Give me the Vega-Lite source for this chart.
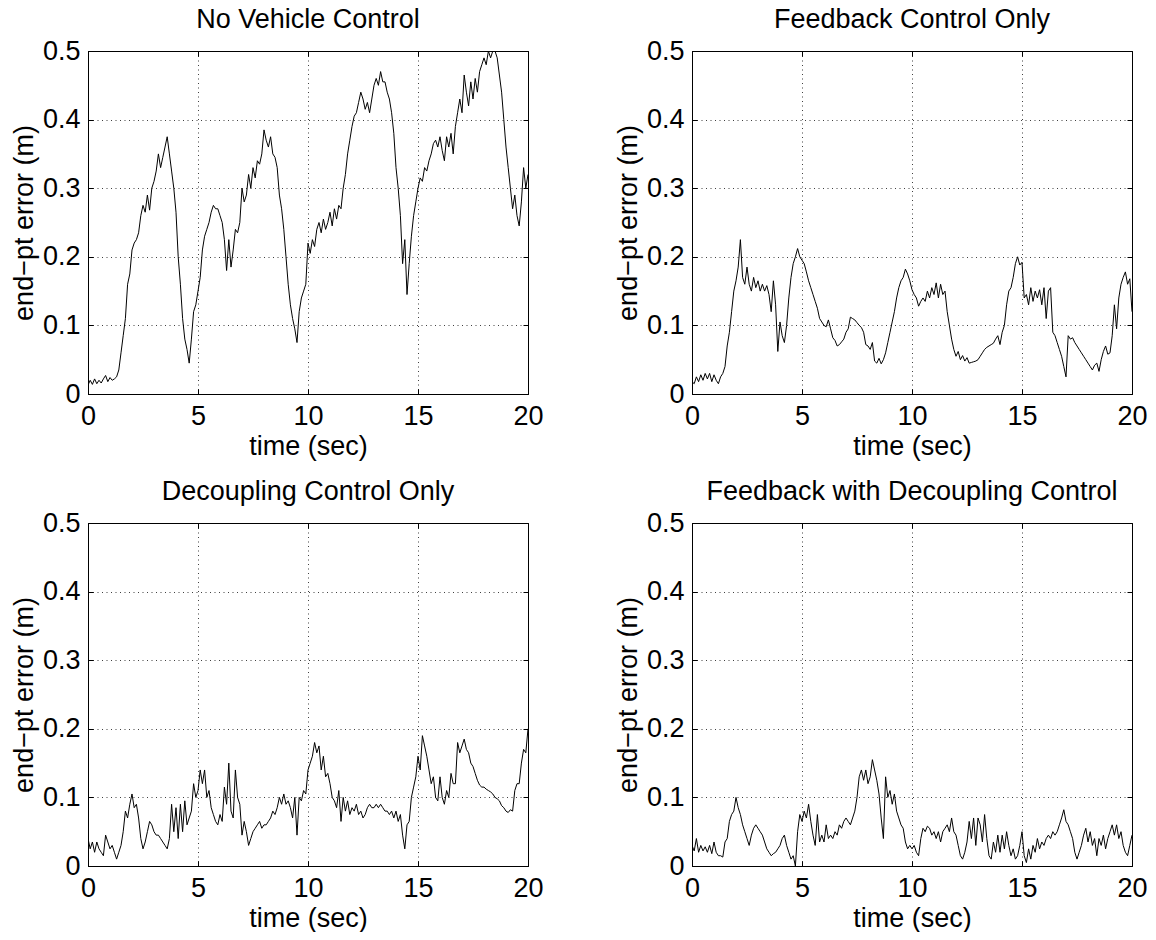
{
"$schema": "https://vega.github.io/schema/vega-lite/v6.json",
"background": "white",
"padding": {"left": 9, "top": 5, "right": 0, "bottom": 0},
"config": {
 "font": "Liberation Sans",
 "view": {"stroke": "black", "strokeWidth": 1},
 "title": {"fontSize": 27, "fontWeight": "normal", "color": "black", "offset": 3},
 "axis": {
  "labelFont": "Liberation Sans", "labelFontSize": 27, "labelColor": "black", "labelFlush": false,
  "titleFont": "Liberation Sans", "titleFontSize": 27, "titleFontWeight": "normal", "titleColor": "black",
  "domainColor": "black", "tickColor": "black", "tickSize": -5, "labelPadding": 13,
  "gridColor": "black", "gridOpacity": 0.75, "gridDash": [1, 3.5], "gridWidth": 1
 },
 "axisX": {"labelPadding": 14, "titlePadding": 4},
 "axisY": {"titlePadding": 4}
},
"columns": 2,
"spacing": {"row": 129, "column": 164},
"bounds": "flush",
"data": {"values": [
{"t":0,"a":0.013,"b":0.018,"c":0.04,"d":0.03},
{"t":0.1,"a":0.02,"b":0.015,"c":0.025,"d":0.022},
{"t":0.2,"a":0.014,"b":0.025,"c":0.035,"d":0.04},
{"t":0.3,"a":0.022,"b":0.018,"c":0.02,"d":0.02},
{"t":0.4,"a":0.015,"b":0.028,"c":0.035,"d":0.03},
{"t":0.5,"a":0.02,"b":0.02,"c":0.025,"d":0.022},
{"t":0.6,"a":0.016,"b":0.03,"c":0.02,"d":0.028},
{"t":0.7,"a":0.022,"b":0.022,"c":0.015,"d":0.02},
{"t":0.8,"a":0.027,"b":0.03,"c":0.045,"d":0.03},
{"t":0.9,"a":0.018,"b":0.018,"c":0.035,"d":0.018},
{"t":1.0,"a":0.024,"b":0.028,"c":0.025,"d":0.035},
{"t":1.1,"a":0.02,"b":0.02,"c":0.03,"d":0.02},
{"t":1.2,"a":0.022,"b":0.015,"c":0.02,"d":0.015},
{"t":1.3,"a":0.025,"b":0.025,"c":0.01,"d":0.015},
{"t":1.4,"a":0.035,"b":0.03,"c":0.02,"d":0.013},
{"t":1.5,"a":0.06,"b":0.04,"c":0.03,"d":0.035},
{"t":1.6,"a":0.085,"b":0.07,"c":0.05,"d":0.04},
{"t":1.7,"a":0.11,"b":0.09,"c":0.08,"d":0.065},
{"t":1.8,"a":0.16,"b":0.12,"c":0.07,"d":0.075},
{"t":1.9,"a":0.175,"b":0.15,"c":0.09,"d":0.08},
{"t":2.0,"a":0.21,"b":0.165,"c":0.105,"d":0.1},
{"t":2.1,"a":0.22,"b":0.185,"c":0.085,"d":0.085},
{"t":2.2,"a":0.225,"b":0.225,"c":0.09,"d":0.075},
{"t":2.3,"a":0.235,"b":0.17,"c":0.07,"d":0.06},
{"t":2.4,"a":0.26,"b":0.16,"c":0.04,"d":0.05},
{"t":2.5,"a":0.275,"b":0.185,"c":0.025,"d":0.04},
{"t":2.6,"a":0.265,"b":0.16,"c":0.035,"d":0.03},
{"t":2.7,"a":0.29,"b":0.15,"c":0.05,"d":0.045},
{"t":2.8,"a":0.268,"b":0.17,"c":0.065,"d":0.055},
{"t":2.9,"a":0.3,"b":0.155,"c":0.06,"d":0.06},
{"t":3.0,"a":0.31,"b":0.165,"c":0.05,"d":0.055},
{"t":3.1,"a":0.325,"b":0.15,"c":0.045,"d":0.05},
{"t":3.2,"a":0.35,"b":0.16,"c":0.045,"d":0.045},
{"t":3.3,"a":0.33,"b":0.15,"c":0.04,"d":0.035},
{"t":3.4,"a":0.345,"b":0.158,"c":0.035,"d":0.025},
{"t":3.5,"a":0.36,"b":0.145,"c":0.03,"d":0.02},
{"t":3.6,"a":0.375,"b":0.12,"c":0.025,"d":0.015},
{"t":3.7,"a":0.35,"b":0.165,"c":0.04,"d":0.018},
{"t":3.8,"a":0.325,"b":0.13,"c":0.09,"d":0.02},
{"t":3.9,"a":0.3,"b":0.062,"c":0.05,"d":0.025},
{"t":4.0,"a":0.265,"b":0.105,"c":0.085,"d":0.03},
{"t":4.1,"a":0.2,"b":0.085,"c":0.04,"d":0.04},
{"t":4.2,"a":0.16,"b":0.075,"c":0.09,"d":0.045},
{"t":4.3,"a":0.11,"b":0.1,"c":0.05,"d":0.03},
{"t":4.4,"a":0.08,"b":0.14,"c":0.095,"d":0.02},
{"t":4.5,"a":0.065,"b":0.17,"c":0.06,"d":0.01},
{"t":4.6,"a":0.045,"b":0.19,"c":0.07,"d":0.015},
{"t":4.7,"a":0.08,"b":0.2,"c":0.08,"d":0.0},
{"t":4.8,"a":0.12,"b":0.212,"c":0.12,"d":0.05},
{"t":4.9,"a":0.13,"b":0.2,"c":0.1,"d":0.075},
{"t":5.0,"a":0.15,"b":0.195,"c":0.11,"d":0.065},
{"t":5.1,"a":0.17,"b":0.19,"c":0.14,"d":0.08},
{"t":5.2,"a":0.21,"b":0.178,"c":0.12,"d":0.07},
{"t":5.3,"a":0.23,"b":0.165,"c":0.14,"d":0.09},
{"t":5.4,"a":0.24,"b":0.155,"c":0.1,"d":0.065},
{"t":5.5,"a":0.25,"b":0.145,"c":0.11,"d":0.045},
{"t":5.6,"a":0.265,"b":0.135,"c":0.085,"d":0.03},
{"t":5.7,"a":0.275,"b":0.125,"c":0.075,"d":0.075},
{"t":5.8,"a":0.27,"b":0.11,"c":0.065,"d":0.035},
{"t":5.9,"a":0.27,"b":0.105,"c":0.06,"d":0.045},
{"t":6.0,"a":0.26,"b":0.1,"c":0.075,"d":0.035},
{"t":6.1,"a":0.25,"b":0.098,"c":0.065,"d":0.06},
{"t":6.2,"a":0.225,"b":0.108,"c":0.115,"d":0.04},
{"t":6.3,"a":0.18,"b":0.095,"c":0.09,"d":0.045},
{"t":6.4,"a":0.225,"b":0.082,"c":0.15,"d":0.04},
{"t":6.5,"a":0.185,"b":0.078,"c":0.08,"d":0.05},
{"t":6.6,"a":0.21,"b":0.07,"c":0.07,"d":0.045},
{"t":6.7,"a":0.24,"b":0.072,"c":0.14,"d":0.06},
{"t":6.8,"a":0.235,"b":0.076,"c":0.1,"d":0.055},
{"t":6.9,"a":0.25,"b":0.08,"c":0.09,"d":0.065},
{"t":7.0,"a":0.3,"b":0.09,"c":0.045,"d":0.07},
{"t":7.1,"a":0.28,"b":0.095,"c":0.065,"d":0.065},
{"t":7.2,"a":0.29,"b":0.112,"c":0.05,"d":0.06},
{"t":7.3,"a":0.32,"b":0.11,"c":0.03,"d":0.07},
{"t":7.4,"a":0.3,"b":0.108,"c":0.04,"d":0.08},
{"t":7.5,"a":0.33,"b":0.104,"c":0.05,"d":0.1},
{"t":7.6,"a":0.315,"b":0.1,"c":0.055,"d":0.13},
{"t":7.7,"a":0.34,"b":0.097,"c":0.06,"d":0.14},
{"t":7.8,"a":0.335,"b":0.09,"c":0.065,"d":0.125},
{"t":7.9,"a":0.35,"b":0.072,"c":0.055,"d":0.14},
{"t":8.0,"a":0.385,"b":0.07,"c":0.06,"d":0.12},
{"t":8.1,"a":0.37,"b":0.065,"c":0.06,"d":0.13},
{"t":8.2,"a":0.36,"b":0.075,"c":0.065,"d":0.155},
{"t":8.3,"a":0.375,"b":0.048,"c":0.07,"d":0.14},
{"t":8.4,"a":0.35,"b":0.045,"c":0.08,"d":0.125},
{"t":8.5,"a":0.345,"b":0.052,"c":0.075,"d":0.105},
{"t":8.6,"a":0.33,"b":0.044,"c":0.085,"d":0.07},
{"t":8.7,"a":0.29,"b":0.05,"c":0.1,"d":0.04},
{"t":8.8,"a":0.27,"b":0.06,"c":0.09,"d":0.13},
{"t":8.9,"a":0.24,"b":0.075,"c":0.105,"d":0.1},
{"t":9.0,"a":0.2,"b":0.09,"c":0.09,"d":0.11},
{"t":9.1,"a":0.16,"b":0.105,"c":0.095,"d":0.09},
{"t":9.2,"a":0.13,"b":0.12,"c":0.085,"d":0.105},
{"t":9.3,"a":0.11,"b":0.14,"c":0.07,"d":0.08},
{"t":9.4,"a":0.095,"b":0.155,"c":0.1,"d":0.07},
{"t":9.5,"a":0.075,"b":0.165,"c":0.045,"d":0.06},
{"t":9.6,"a":0.12,"b":0.17,"c":0.1,"d":0.055},
{"t":9.7,"a":0.14,"b":0.182,"c":0.095,"d":0.035},
{"t":9.8,"a":0.15,"b":0.175,"c":0.11,"d":0.025},
{"t":9.9,"a":0.16,"b":0.165,"c":0.105,"d":0.03},
{"t":10.0,"a":0.22,"b":0.152,"c":0.14,"d":0.025},
{"t":10.1,"a":0.205,"b":0.145,"c":0.15,"d":0.03},
{"t":10.2,"a":0.225,"b":0.14,"c":0.16,"d":0.02},
{"t":10.3,"a":0.215,"b":0.128,"c":0.18,"d":0.015},
{"t":10.4,"a":0.24,"b":0.135,"c":0.165,"d":0.04},
{"t":10.5,"a":0.25,"b":0.14,"c":0.175,"d":0.055},
{"t":10.6,"a":0.235,"b":0.135,"c":0.14,"d":0.05},
{"t":10.7,"a":0.255,"b":0.15,"c":0.16,"d":0.058},
{"t":10.8,"a":0.24,"b":0.14,"c":0.13,"d":0.055},
{"t":10.9,"a":0.25,"b":0.155,"c":0.135,"d":0.045},
{"t":11.0,"a":0.265,"b":0.145,"c":0.12,"d":0.05},
{"t":11.1,"a":0.245,"b":0.162,"c":0.1,"d":0.04},
{"t":11.2,"a":0.27,"b":0.14,"c":0.095,"d":0.05},
{"t":11.3,"a":0.255,"b":0.16,"c":0.085,"d":0.035},
{"t":11.4,"a":0.275,"b":0.145,"c":0.11,"d":0.05},
{"t":11.5,"a":0.27,"b":0.15,"c":0.065,"d":0.055},
{"t":11.6,"a":0.3,"b":0.12,"c":0.1,"d":0.06},
{"t":11.7,"a":0.32,"b":0.1,"c":0.08,"d":0.05},
{"t":11.8,"a":0.35,"b":0.08,"c":0.095,"d":0.07},
{"t":11.9,"a":0.37,"b":0.065,"c":0.075,"d":0.05},
{"t":12.0,"a":0.39,"b":0.055,"c":0.085,"d":0.045},
{"t":12.1,"a":0.405,"b":0.062,"c":0.08,"d":0.03},
{"t":12.2,"a":0.41,"b":0.05,"c":0.09,"d":0.015},
{"t":12.3,"a":0.425,"b":0.056,"c":0.075,"d":0.01},
{"t":12.4,"a":0.44,"b":0.048,"c":0.08,"d":0.02},
{"t":12.5,"a":0.43,"b":0.053,"c":0.07,"d":0.035},
{"t":12.6,"a":0.415,"b":0.045,"c":0.075,"d":0.065},
{"t":12.7,"a":0.425,"b":0.046,"c":0.085,"d":0.04},
{"t":12.8,"a":0.41,"b":0.047,"c":0.09,"d":0.07},
{"t":12.9,"a":0.43,"b":0.048,"c":0.085,"d":0.03},
{"t":13.0,"a":0.45,"b":0.05,"c":0.085,"d":0.07},
{"t":13.1,"a":0.46,"b":0.055,"c":0.09,"d":0.06},
{"t":13.2,"a":0.45,"b":0.06,"c":0.085,"d":0.035},
{"t":13.3,"a":0.47,"b":0.065,"c":0.09,"d":0.075},
{"t":13.4,"a":0.455,"b":0.068,"c":0.085,"d":0.04},
{"t":13.5,"a":0.455,"b":0.07,"c":0.08,"d":0.015},
{"t":13.6,"a":0.44,"b":0.072,"c":0.08,"d":0.01},
{"t":13.7,"a":0.43,"b":0.074,"c":0.075,"d":0.035},
{"t":13.8,"a":0.41,"b":0.08,"c":0.08,"d":0.02},
{"t":13.9,"a":0.38,"b":0.085,"c":0.07,"d":0.045},
{"t":14.0,"a":0.33,"b":0.072,"c":0.08,"d":0.02},
{"t":14.1,"a":0.3,"b":0.09,"c":0.065,"d":0.045},
{"t":14.2,"a":0.26,"b":0.1,"c":0.075,"d":0.025},
{"t":14.3,"a":0.19,"b":0.13,"c":0.045,"d":0.05},
{"t":14.4,"a":0.225,"b":0.15,"c":0.025,"d":0.03},
{"t":14.5,"a":0.145,"b":0.155,"c":0.06,"d":0.015},
{"t":14.6,"a":0.19,"b":0.17,"c":0.065,"d":0.025},
{"t":14.7,"a":0.23,"b":0.19,"c":0.1,"d":0.01},
{"t":14.8,"a":0.26,"b":0.2,"c":0.115,"d":0.015},
{"t":14.9,"a":0.28,"b":0.188,"c":0.13,"d":0.03},
{"t":15.0,"a":0.3,"b":0.192,"c":0.16,"d":0.05},
{"t":15.1,"a":0.315,"b":0.14,"c":0.14,"d":0.015},
{"t":15.2,"a":0.31,"b":0.145,"c":0.19,"d":0.005},
{"t":15.3,"a":0.33,"b":0.13,"c":0.175,"d":0.025},
{"t":15.4,"a":0.325,"b":0.155,"c":0.16,"d":0.01},
{"t":15.5,"a":0.34,"b":0.135,"c":0.14,"d":0.03},
{"t":15.6,"a":0.35,"b":0.15,"c":0.12,"d":0.02},
{"t":15.7,"a":0.365,"b":0.14,"c":0.13,"d":0.04},
{"t":15.8,"a":0.37,"b":0.152,"c":0.1,"d":0.025},
{"t":15.9,"a":0.36,"b":0.13,"c":0.095,"d":0.035},
{"t":16.0,"a":0.375,"b":0.155,"c":0.13,"d":0.03},
{"t":16.1,"a":0.355,"b":0.11,"c":0.1,"d":0.04},
{"t":16.2,"a":0.34,"b":0.15,"c":0.09,"d":0.045},
{"t":16.3,"a":0.375,"b":0.155,"c":0.11,"d":0.04},
{"t":16.4,"a":0.36,"b":0.09,"c":0.1,"d":0.05},
{"t":16.5,"a":0.38,"b":0.085,"c":0.135,"d":0.045},
{"t":16.6,"a":0.35,"b":0.075,"c":0.12,"d":0.05},
{"t":16.7,"a":0.39,"b":0.065,"c":0.12,"d":0.06},
{"t":16.8,"a":0.41,"b":0.055,"c":0.18,"d":0.07},
{"t":16.9,"a":0.43,"b":0.04,"c":0.165,"d":0.082},
{"t":17.0,"a":0.41,"b":0.025,"c":0.175,"d":0.065},
{"t":17.1,"a":0.465,"b":0.085,"c":0.185,"d":0.06},
{"t":17.2,"a":0.44,"b":0.08,"c":0.17,"d":0.05},
{"t":17.3,"a":0.42,"b":0.082,"c":0.165,"d":0.04},
{"t":17.4,"a":0.455,"b":0.075,"c":0.15,"d":0.02},
{"t":17.5,"a":0.43,"b":0.07,"c":0.145,"d":0.01},
{"t":17.6,"a":0.46,"b":0.065,"c":0.135,"d":0.02},
{"t":17.7,"a":0.44,"b":0.06,"c":0.125,"d":0.03},
{"t":17.8,"a":0.47,"b":0.055,"c":0.118,"d":0.045},
{"t":17.9,"a":0.48,"b":0.05,"c":0.115,"d":0.055},
{"t":18.0,"a":0.49,"b":0.045,"c":0.115,"d":0.035},
{"t":18.1,"a":0.48,"b":0.04,"c":0.112,"d":0.05},
{"t":18.2,"a":0.5,"b":0.035,"c":0.11,"d":0.03},
{"t":18.3,"a":0.49,"b":0.042,"c":0.108,"d":0.04},
{"t":18.4,"a":0.5,"b":0.045,"c":0.105,"d":0.015},
{"t":18.5,"a":0.5,"b":0.033,"c":0.1,"d":0.04},
{"t":18.6,"a":0.49,"b":0.05,"c":0.098,"d":0.03},
{"t":18.7,"a":0.465,"b":0.062,"c":0.095,"d":0.045},
{"t":18.8,"a":0.44,"b":0.07,"c":0.088,"d":0.025},
{"t":18.9,"a":0.4,"b":0.058,"c":0.085,"d":0.04},
{"t":19.0,"a":0.36,"b":0.06,"c":0.08,"d":0.05},
{"t":19.1,"a":0.33,"b":0.085,"c":0.078,"d":0.06},
{"t":19.2,"a":0.3,"b":0.13,"c":0.082,"d":0.045},
{"t":19.3,"a":0.27,"b":0.095,"c":0.08,"d":0.06},
{"t":19.4,"a":0.29,"b":0.14,"c":0.11,"d":0.04},
{"t":19.5,"a":0.26,"b":0.16,"c":0.12,"d":0.05},
{"t":19.6,"a":0.245,"b":0.17,"c":0.12,"d":0.03},
{"t":19.7,"a":0.28,"b":0.178,"c":0.15,"d":0.02},
{"t":19.8,"a":0.33,"b":0.16,"c":0.17,"d":0.015},
{"t":19.9,"a":0.3,"b":0.168,"c":0.165,"d":0.03},
{"t":20.0,"a":0.32,"b":0.12,"c":0.2,"d":0.045}
]},
"concat": [
 {"title": "No Vehicle Control", "width": 440, "height": 343,
  "layer": [
   {"mark": {"type": "line", "color": "black", "strokeWidth": 1, "clip": true},
    "encoding": {
     "x": {"field": "t", "type": "quantitative", "scale": {"domain": [0, 20], "nice": false}, "axis": {"values": [0, 5, 10, 15, 20], "title": "time (sec)"}},
     "y": {"field": "a", "type": "quantitative", "scale": {"domain": [0, 0.5], "nice": false}, "axis": {"values": [0, 0.1, 0.2, 0.3, 0.4, 0.5], "format": "~g", "title": "end−pt error (m)"}}}},
   {"mark": {"type": "line", "opacity": 0, "clip": true},
    "encoding": {
     "x": {"field": "t", "type": "quantitative", "scale": {"domain": [0, 20], "nice": false}, "axis": {"orient": "top", "values": [0, 5, 10, 15, 20], "labels": false, "grid": false, "domain": false, "title": null}},
     "y": {"field": "a", "type": "quantitative", "scale": {"domain": [0, 0.5], "nice": false}, "axis": {"orient": "right", "values": [0, 0.1, 0.2, 0.3, 0.4, 0.5], "labels": false, "grid": false, "domain": false, "title": null}}}}
  ],
  "resolve": {"axis": {"x": "independent", "y": "independent"}}},
 {"title": "Feedback Control Only", "width": 440, "height": 343,
  "layer": [
   {"mark": {"type": "line", "color": "black", "strokeWidth": 1, "clip": true},
    "encoding": {
     "x": {"field": "t", "type": "quantitative", "scale": {"domain": [0, 20], "nice": false}, "axis": {"values": [0, 5, 10, 15, 20], "title": "time (sec)"}},
     "y": {"field": "b", "type": "quantitative", "scale": {"domain": [0, 0.5], "nice": false}, "axis": {"values": [0, 0.1, 0.2, 0.3, 0.4, 0.5], "format": "~g", "title": "end−pt error (m)"}}}},
   {"mark": {"type": "line", "opacity": 0, "clip": true},
    "encoding": {
     "x": {"field": "t", "type": "quantitative", "scale": {"domain": [0, 20], "nice": false}, "axis": {"orient": "top", "values": [0, 5, 10, 15, 20], "labels": false, "grid": false, "domain": false, "title": null}},
     "y": {"field": "b", "type": "quantitative", "scale": {"domain": [0, 0.5], "nice": false}, "axis": {"orient": "right", "values": [0, 0.1, 0.2, 0.3, 0.4, 0.5], "labels": false, "grid": false, "domain": false, "title": null}}}}
  ],
  "resolve": {"axis": {"x": "independent", "y": "independent"}}},
 {"title": "Decoupling Control Only", "width": 440, "height": 343,
  "layer": [
   {"mark": {"type": "line", "color": "black", "strokeWidth": 1, "clip": true},
    "encoding": {
     "x": {"field": "t", "type": "quantitative", "scale": {"domain": [0, 20], "nice": false}, "axis": {"values": [0, 5, 10, 15, 20], "title": "time (sec)"}},
     "y": {"field": "c", "type": "quantitative", "scale": {"domain": [0, 0.5], "nice": false}, "axis": {"values": [0, 0.1, 0.2, 0.3, 0.4, 0.5], "format": "~g", "title": "end−pt error (m)"}}}},
   {"mark": {"type": "line", "opacity": 0, "clip": true},
    "encoding": {
     "x": {"field": "t", "type": "quantitative", "scale": {"domain": [0, 20], "nice": false}, "axis": {"orient": "top", "values": [0, 5, 10, 15, 20], "labels": false, "grid": false, "domain": false, "title": null}},
     "y": {"field": "c", "type": "quantitative", "scale": {"domain": [0, 0.5], "nice": false}, "axis": {"orient": "right", "values": [0, 0.1, 0.2, 0.3, 0.4, 0.5], "labels": false, "grid": false, "domain": false, "title": null}}}}
  ],
  "resolve": {"axis": {"x": "independent", "y": "independent"}}},
 {"title": "Feedback with Decoupling Control", "width": 440, "height": 343,
  "layer": [
   {"mark": {"type": "line", "color": "black", "strokeWidth": 1, "clip": true},
    "encoding": {
     "x": {"field": "t", "type": "quantitative", "scale": {"domain": [0, 20], "nice": false}, "axis": {"values": [0, 5, 10, 15, 20], "title": "time (sec)"}},
     "y": {"field": "d", "type": "quantitative", "scale": {"domain": [0, 0.5], "nice": false}, "axis": {"values": [0, 0.1, 0.2, 0.3, 0.4, 0.5], "format": "~g", "title": "end−pt error (m)"}}}},
   {"mark": {"type": "line", "opacity": 0, "clip": true},
    "encoding": {
     "x": {"field": "t", "type": "quantitative", "scale": {"domain": [0, 20], "nice": false}, "axis": {"orient": "top", "values": [0, 5, 10, 15, 20], "labels": false, "grid": false, "domain": false, "title": null}},
     "y": {"field": "d", "type": "quantitative", "scale": {"domain": [0, 0.5], "nice": false}, "axis": {"orient": "right", "values": [0, 0.1, 0.2, 0.3, 0.4, 0.5], "labels": false, "grid": false, "domain": false, "title": null}}}}
  ],
  "resolve": {"axis": {"x": "independent", "y": "independent"}}}
]
}
